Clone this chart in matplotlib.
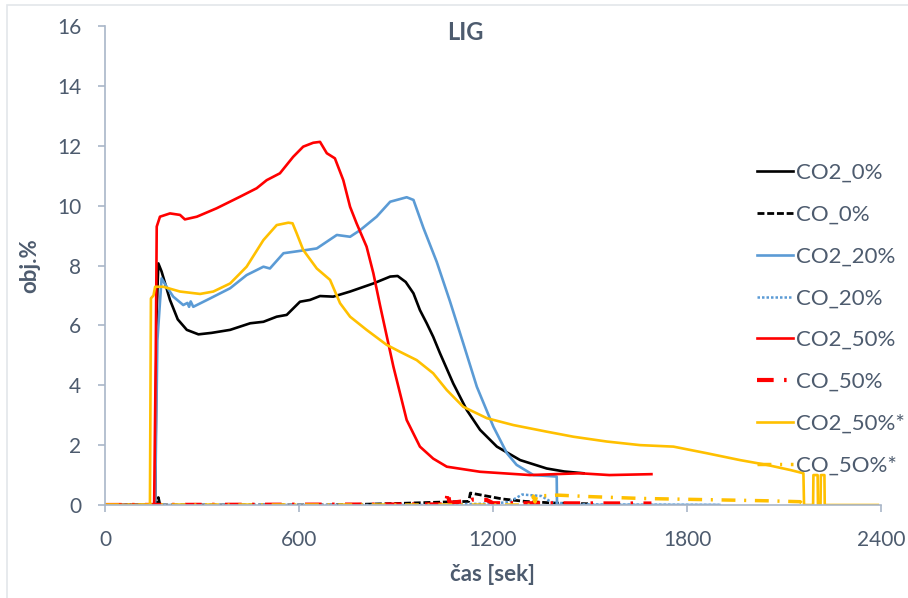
import matplotlib
matplotlib.use("Agg")
import matplotlib.pyplot as plt
from matplotlib.patches import Rectangle

# time [s] / value [obj.%]
co2_0_t = [0, 155, 160, 165, 175, 201, 225, 253, 289, 330, 387, 449, 490, 531, 562, 603, 634, 665,
           706, 758, 830, 882, 905, 930, 954, 974, 995, 1015, 1036, 1077, 1119, 1160, 1212, 1284,
           1366, 1420, 1480]
co2_0_v = [0, 0, 6.5, 8.07, 7.8, 6.85, 6.2, 5.85, 5.70, 5.75, 5.85, 6.07, 6.12, 6.29, 6.35, 6.79,
           6.85, 6.98, 6.96, 7.13, 7.40, 7.63, 7.65, 7.45, 7.07, 6.51, 6.07, 5.62, 5.07, 4.06, 3.17,
           2.51, 1.95, 1.50, 1.22, 1.12, 1.06]

co_0_t = [0, 160, 165, 170, 700, 900, 1050, 1125, 1130, 1180, 1230, 1300, 1400, 1500]
co_0_v = [0, 0, 0.25, 0, 0, 0.05, 0.1, 0.12, 0.4, 0.3, 0.2, 0.12, 0.06, 0.04]

co2_20_t = [0, 155, 162, 175, 190, 211, 242, 255, 260, 265, 273, 325, 387, 438, 490, 510, 552, 624,
            655, 717, 758, 789, 840, 882, 933, 954, 985, 1026, 1067, 1108, 1150, 1201, 1243, 1273,
            1325, 1397, 1398, 1900]
co2_20_v = [0, 0, 5.5, 7.57, 7.3, 6.96, 6.68, 6.75, 6.62, 6.8, 6.62, 6.90, 7.24, 7.68, 7.96, 7.90,
            8.41, 8.52, 8.57, 9.02, 8.96, 9.18, 9.63, 10.13, 10.28, 10.19, 9.25, 8.12, 6.80, 5.40,
            3.95, 2.62, 1.73, 1.34, 1.0, 0.95, 0, 0]

co_20_t = [0, 1000, 1200, 1250, 1290, 1350, 1380, 1450, 1900]
co_20_v = [0, 0, 0.05, 0.1, 0.35, 0.3, 0.1, 0.02, 0]

co2_50_t = [0, 152, 157, 160, 170, 201, 232, 247, 284, 345, 418, 469, 500, 541, 582, 613, 644, 665,
            686, 711, 737, 758, 778, 809, 830, 851, 892, 933, 974, 1015, 1057, 1160, 1315, 1469,
            1560, 1690]
co2_50_v = [0, 0, 5, 9.3, 9.63, 9.74, 9.69, 9.54, 9.63, 9.91, 10.30, 10.58, 10.85, 11.08, 11.63,
            11.97, 12.10, 12.13, 11.75, 11.58, 10.85, 9.96, 9.41, 8.63, 7.74, 6.65, 4.62, 2.84,
            1.95, 1.55, 1.28, 1.11, 1.0, 1.06, 1.0, 1.03]

co_50_t = [0, 1055, 1060, 1065, 1075, 1130, 1135, 1180, 1200, 1690]
co_50_v = [0, 0.02, 0.45, 0.1, 0.08, 0.15, 0.18, 0.17, 0.06, 0.05]

co2_50s_t = [0, 139, 142, 150, 155, 180, 232, 294, 335, 387, 438, 490, 531, 567, 580, 593, 613, 655,
             696, 727, 758, 809, 871, 912, 964, 1015, 1057, 1108, 1181, 1263, 1366, 1449, 1552,
             1655, 1758, 1861, 1964, 2047, 2119, 2160, 2162, 2190, 2191, 2204, 2205, 2213, 2214,
             2225, 2226, 2390]
co2_50s_v = [0, 0, 6.9, 7.0, 7.29, 7.29, 7.13, 7.05, 7.13, 7.40, 7.96, 8.85, 9.35, 9.43, 9.41, 9.07,
             8.52, 7.90, 7.52, 6.74, 6.29, 5.85, 5.35, 5.12, 4.84, 4.40, 3.84, 3.28, 2.9, 2.67,
             2.45, 2.28, 2.12, 2.0, 1.95, 1.73, 1.50, 1.34, 1.17, 1.06, 0, 0, 1.0, 1.0, 0, 0, 1.0,
             1.0, 0, 0]

co_50s_t = [0, 1320, 1325, 1330, 1335, 1400, 1500, 1655, 1800, 1902, 2050, 2150, 2160]
co_50s_v = [0, 0, 0.3, 0.1, 0.3, 0.33, 0.28, 0.22, 0.19, 0.17, 0.14, 0.11, 0.0]

x_ticks = [0, 600, 1200, 1800, 2400]
y_ticks = [0, 2, 4, 6, 8, 10, 12, 14, 16]

txt = '#4d5b6e'
axc = '#a9b6c8'
plt.rcParams['font.family'] = ['Lato', 'DejaVu Sans']

fig = plt.figure(figsize=(9.08, 5.98), dpi=100)
ax = fig.add_axes([105/908, 1-505/598, 776/908, 479/598])

ax.plot(co2_0_t, co2_0_v, color='black', lw=1.9, label='CO2_0%')
ax.plot(co_0_t, co_0_v, color='black', lw=2, ls=(0, (2.5, 1)), label='CO_0%')
ax.plot(co2_20_t, co2_20_v, color='#5b9bd5', lw=1.9, label='CO2_20%')
ax.plot(co_20_t, co_20_v, color='#5b9bd5', lw=1.8, ls=(0, (1, 0.8)), label='CO_20%')
ax.plot(co2_50_t, co2_50_v, color='#ff0000', lw=1.9, label='CO2_50%')
ax.plot(co_50_t, co_50_v, color='#ff0000', lw=3, ls=(0, (4, 2.5, 0.6, 2.5)), label='CO_50%')
ax.plot(co2_50s_t, co2_50s_v, color='#ffc000', lw=1.9, label='CO2_50%*')
ax.plot(co_50s_t, co_50s_v, color='#ffc000', lw=2.5, ls=(0, (4, 2.5, 0.6, 2.5)), label='CO_5O%*')

ax.set_xlim(0, 2400)
ax.set_ylim(0, 16)
ax.set_xticks(x_ticks)
ax.set_yticks(y_ticks)
for s in ['top', 'right']:
    ax.spines[s].set_visible(False)
for s in ['left', 'bottom']:
    ax.spines[s].set_color(axc)
    ax.spines[s].set_linewidth(1.2)
ax.tick_params(colors=axc, labelcolor=txt, labelsize=15, length=5, width=1.2)
ax.tick_params(axis='x', pad=13)
ax.tick_params(axis='y', pad=12)

fig.text(465/908, 1-32/598, 'LIG', fontsize=17, fontweight='bold', color=txt, ha='center', va='center')
ax.set_xlabel('čas [sek]', fontsize=16, fontweight='bold', color=txt, labelpad=10)
ax.set_ylabel('obj.%', fontsize=16, fontweight='bold', color=txt, labelpad=12)

leg = ax.legend(loc='upper left', bbox_to_anchor=(757/908, 1-163/598), bbox_transform=fig.transFigure,
                frameon=False, fontsize=16, handlelength=1.6, handletextpad=0.15,
                labelspacing=0.98, borderpad=0, borderaxespad=0)
for t in leg.get_texts():
    t.set_color(txt)

fig.patches.append(Rectangle((7/908, -0.05), 1.1, 0.05 + 1-5/598, transform=fig.transFigure,
                             fill=False, edgecolor='#e3e6ea', lw=1.2))

fig.savefig('out.png', dpi=100)
